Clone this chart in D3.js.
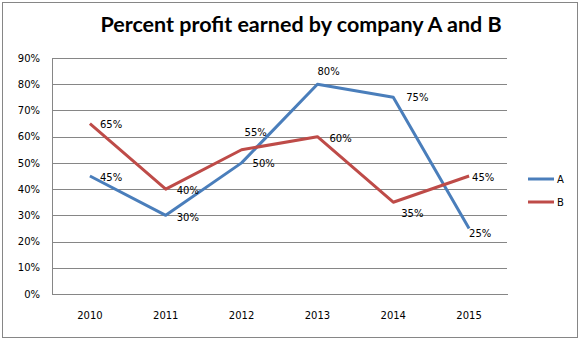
<!DOCTYPE html>
<html><head><meta charset="utf-8">
<script src="https://cdn.jsdelivr.net/npm/d3@7"></script>
<style>body{margin:0;background:#fff}svg{display:block}</style>
</head><body><svg id="c" width="581" height="341"></svg>
<script>
const years = ["2010","2011","2012","2013","2014","2015"];
const seriesA = [45,30,50,80,75,25];
const seriesB = [65,40,55,60,35,45];
const yTicks = [0,10,20,30,40,50,60,70,80,90];
const seriesNames = ["A","B"];
const colors = ["#4A7EBB","#BE4B48"];
// label placement offsets (px) relative to each point: [dx, dy]
const labelOffsetsA = [[10,1],[11,2],[11,1],[0,-13],[13,0],[0,5]];
const labelOffsetsB = [[10,1],[11,1],[3,-17],[12,2],[8,11],[3,1]];

const svg = d3.select("#c");
svg.append("rect").attr("x",2.5).attr("y",2.5).attr("width",575).attr("height",335)
  .attr("fill","#fff").attr("stroke","#868686");

svg.append("text").attr("x",301).attr("y",32).attr("text-anchor","middle")
  .attr("font-family","Lato, 'Open Sans', sans-serif").attr("font-weight","bold")
  .attr("font-size",21.5).attr("fill","#000").text("Percent profit earned by company A and B");

const L=52,R=507,T=58,B=294;
const x = d3.scaleBand().domain(years).range([L,R]);
const y = d3.scaleLinear().domain([0,90]).range([B,T]);
const font = "'DejaVu Sans', Verdana, sans-serif";

const gy = svg.append("g").attr("transform",`translate(${L},0)`)
  .call(d3.axisLeft(y).tickValues(yTicks).tickSize(-(R-L)).tickFormat(d=>d+"%").tickPadding(12));
gy.select(".domain").remove();
gy.selectAll(".tick line").attr("stroke","#868686").attr("shape-rendering","crispEdges");
gy.selectAll(".tick text").attr("font-family",font).attr("font-size",10).attr("fill","#000");

const gx = svg.append("g").attr("transform",`translate(0,${B})`)
  .call(d3.axisBottom(x).tickSize(0).tickPadding(18));
gx.select(".domain").attr("stroke","#868686").attr("shape-rendering","crispEdges");
gx.selectAll(".tick text").attr("font-family",font).attr("font-size",10).attr("fill","#000");
svg.append("line").attr("x1",L+0.5).attr("x2",L+0.5).attr("y1",T).attr("y2",B).attr("stroke","#868686");

const data = [seriesA, seriesB];
const offsets = [labelOffsetsA, labelOffsetsB];
const px = i => x(years[i])+x.bandwidth()/2;
const line = d3.line().x((d,i)=>px(i)).y(d=>y(d));
data.forEach((s,k)=>{
  svg.append("path").datum(s).attr("d",line).attr("fill","none")
    .attr("stroke",colors[k]).attr("stroke-width",3).attr("stroke-linejoin","round");
});
data.forEach((s,k)=>{
  svg.append("g").selectAll("text").data(s).join("text")
    .attr("x",(d,i)=>px(i)+offsets[k][i][0])
    .attr("y",(d,i)=>y(d)+offsets[k][i][1]).attr("dy","0.35em")
    .attr("font-family",font).attr("font-size",10).attr("fill","#000")
    .text(d=>d+"%");
});

const lg = svg.append("g");
seriesNames.forEach((n,k)=>{
  const yy = 179 + k*23;
  lg.append("line").attr("x1",528).attr("x2",554).attr("y1",yy).attr("y2",yy)
    .attr("stroke",colors[k]).attr("stroke-width",3);
  lg.append("text").attr("x",557).attr("y",yy).attr("dy","0.35em")
    .attr("font-family",font).attr("font-size",10).attr("fill","#000").text(n);
});
</script></body></html>
